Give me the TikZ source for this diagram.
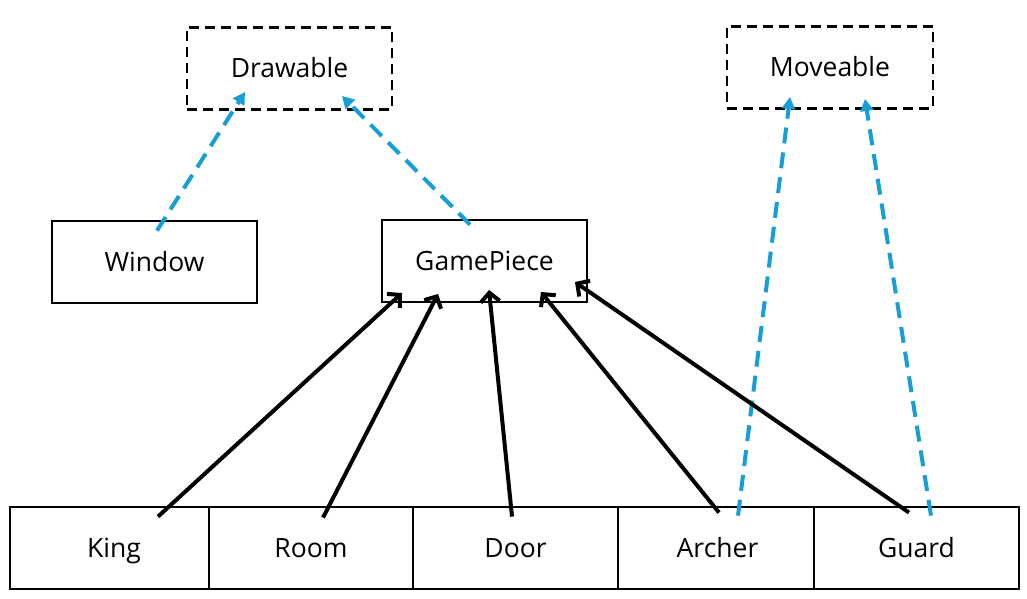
\documentclass[tikz,border=0pt]{standalone}
\usepackage{fontspec}
\setmainfont{Open Sans}
\usetikzlibrary{arrows.meta}
\definecolor{iblue}{RGB}{24,158,214}
\begin{document}
\begin{tikzpicture}[x=1pt,y=-1pt,
 box/.style={draw,line width=2.8pt,minimum width=205pt,minimum height=82pt,inner sep=0pt,text height=20pt,text depth=2pt,font=\fontsize{26.5}{30}\selectfont},
 iface/.style={box,dash pattern=on 10pt off 6pt},
 inh/.style={line width=4pt,-{Straight Barb[length=9pt,width=19pt,line width=4pt]}},
 impl/.style={draw=iblue,line width=4pt,dash pattern=on 16pt off 9pt,-{Triangle[length=12pt,width=13pt,fill=iblue]}}]
\useasboundingbox (0,0) rectangle (1027,599);
\node[iface] (drawable) at (289.5,68.5) {Drawable};
\node[iface,minimum width=206pt] (moveable) at (830,67.5) {Moveable};
\node[box] (window) at (154.5,262) {Window};
\node[box] (gp) at (484.5,261) {GamePiece};
\node[box,minimum width=199pt] (king) at (109.5,548) {\hspace*{9pt}King};
\node[box,minimum width=204pt] (room) at (311,548) {Room};
\node[box] (door) at (515.5,548) {Door};
\node[box,minimum width=196pt] (archer) at (716,548) {\hspace*{3pt}Archer};
\node[box] (guard) at (916.5,548) {Guard};
% implements
\draw[impl] ([shift={(2.5,11)}]window.north) -- ([shift={(-44.5,23.5)}]drawable.center);
\draw[impl] ([shift={(-14.5,6)}]gp.north) -- ([shift={(52.5,27.5)}]drawable.center);
\draw[impl] ([shift={(22,10)}]archer.north) -- ([shift={(-40,29.5)}]moveable.center);
\draw[impl] ([shift={(14.5,10)}]guard.north) -- ([shift={(35,31.5)}]moveable.center);
% inheritance
\draw[inh] ([shift={(48.5,11)}]king.north) -- ([shift={(-82.5,32)}]gp.center);
\draw[inh] ([shift={(12,12)}]room.north) -- ([shift={(-46.5,33)}]gp.center);
\draw[inh] ([shift={(-3.5,11)}]door.north) -- ([shift={(4.5,29)}]gp.center);
\draw[inh] ([shift={(3,7)}]archer.north) -- ([shift={(56.5,31)}]gp.center);
\draw[inh] ([shift={(-7.5,7)}]guard.north) -- ([shift={(90.5,21)}]gp.center);
\end{tikzpicture}
\end{document}
